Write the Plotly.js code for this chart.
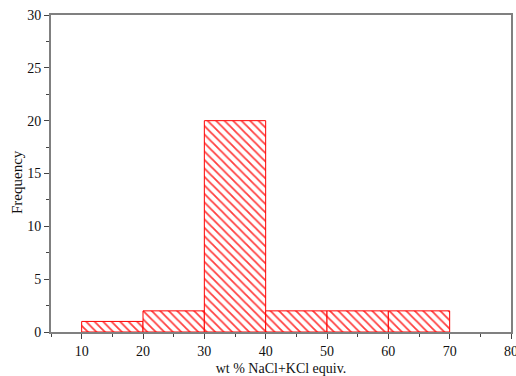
<!DOCTYPE html>
<html>
<head>
<meta charset="utf-8">
<script src="https://cdn.plot.ly/plotly-3.0.1.min.js"></script>
<style>html,body{margin:0;padding:0;background:#fff;}#chart{width:516px;height:376px;}</style>
</head>
<body>
<div id="chart"></div>
<script>
const binStarts = [10, 20, 30, 40, 50, 60];
const binWidth = 10;
const frequencies = [1, 2, 20, 2, 2, 2];
const xTicks = [10, 20, 30, 40, 50, 60, 70, 80];
const yTicks = [0, 5, 10, 15, 20, 25, 30];

const centers = binStarts.map(s => s + binWidth / 2);

const trace = {
  type: 'bar',
  x: centers,
  y: frequencies,
  width: binStarts.map(() => binWidth),
  marker: {
    color: 'white',
    line: {color: '#ff0000', width: 1},
    pattern: {shape: '\\', fgcolor: '#ff4040', bgcolor: 'white', size: 6, solidity: 0.3}
  },
  hoverinfo: 'skip'
};

const font = {family: "'Liberation Serif', 'Times New Roman', Times, serif", size: 14, color: '#111'};

const layout = {
  width: 516, height: 376,
  margin: {l: 51, r: 5, t: 15, b: 44},
  paper_bgcolor: 'white', plot_bgcolor: 'white',
  showlegend: false,
  font: font,
  bargap: 0,
  xaxis: {
    range: [5, 80], tickvals: xTicks, ticktext: xTicks.map(String),
    ticklabeloverflow: 'allow',
    showline: true, linecolor: '#808080', linewidth: 2, mirror: true,
    ticks: 'outside', ticklen: 5, tickcolor: '#444', tickwidth: 1,
    minor: {ticks: 'outside', dtick: 5, tick0: 0, ticklen: 3, tickcolor: '#444'},
    showgrid: false, zeroline: false,
    tickfont: font,
    title: {text: 'wt % NaCl+KCl equiv.', font: font, standoff: 10}
  },
  yaxis: {
    range: [0, 30], tickvals: yTicks, ticktext: yTicks.map(String),
    ticklabeloverflow: 'allow',
    showline: true, linecolor: '#808080', linewidth: 2, mirror: true,
    ticks: 'outside', ticklen: 5, tickcolor: '#444', tickwidth: 1,
    minor: {ticks: 'outside', dtick: 2.5, tick0: 0, ticklen: 3, tickcolor: '#444'},
    showgrid: false, zeroline: false,
    tickfont: font
  },
  annotations: [{
    text: 'Frequency', textangle: -90, showarrow: false,
    xref: 'paper', yref: 'paper', x: -0.074, y: 0.473,
    xanchor: 'center', yanchor: 'middle',
    font: {family: font.family, size: 15, color: '#111'}
  }]
};

Plotly.newPlot('chart', [trace], layout, {displayModeBar: false, staticPlot: true});
</script>
</body>
</html>
